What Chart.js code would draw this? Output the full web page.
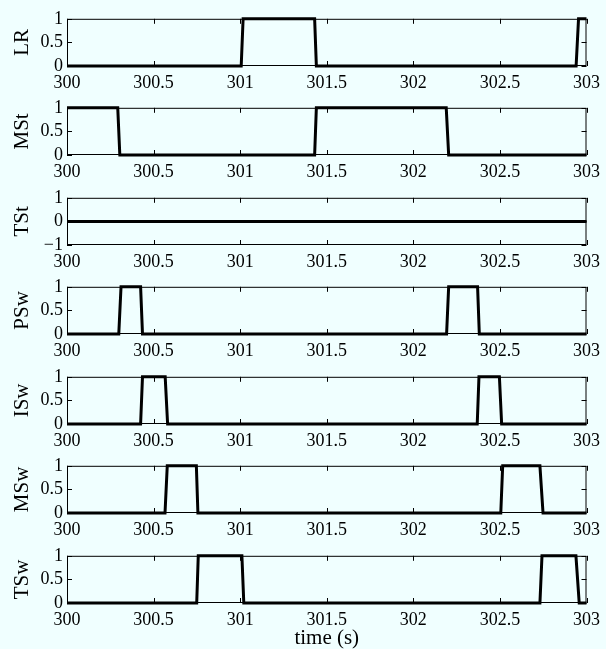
<!DOCTYPE html>
<html>
<head>
<meta charset="utf-8">
<script src="https://cdn.jsdelivr.net/npm/chart.js@4"></script>
<style>
    html, body { margin: 0; padding: 0; background: #f0ffff; }
    #fig { position: relative; width: 606px; height: 649px; overflow: hidden; }
    #fig canvas { position: absolute; left: 0; }
</style>
</head>
<body>
<div id="fig"></div>
<script>
// tick values
const xTicks = [300, 300.5, 301, 301.5, 302, 302.5, 303]
const unitTicks = [0, 0.5, 1]
const tstTicks = [-1, 0, 1]

// signals: switching times (s) and levels
const lrT = [300, 301.006, 301.017, 301.43, 301.44, 302.94, 302.954, 303]
const lrV = [0, 0, 1, 1, 0, 0, 1, 1]

const mstT = [300, 300.293, 300.305, 301.43, 301.44, 302.19, 302.204, 303]
const mstV = [1, 1, 0, 0, 1, 1, 0, 0]

const tstT = [300, 303]
const tstV = [0, 0]

const pswT = [300, 300.299, 300.312, 300.425, 300.436, 302.192, 302.204, 302.371, 302.381, 303]
const pswV = [0, 0, 1, 1, 0, 0, 1, 1, 0, 0]

const iswT = [300, 300.425, 300.436, 300.567, 300.581, 302.369, 302.379, 302.497, 302.51, 303]
const iswV = [0, 0, 1, 1, 0, 0, 1, 1, 0, 0]

const mswT = [300, 300.566, 300.579, 300.747, 300.756, 302.505, 302.516, 302.731, 302.749, 303]
const mswV = [0, 0, 1, 1, 0, 0, 1, 1, 0, 0]

const tswT = [300, 300.749, 300.758, 301.01, 301.021, 302.731, 302.743, 302.939, 302.958, 303]
const tswV = [0, 0, 1, 1, 0, 0, 1, 1, 0, 0]

const panels = [
    {label: 'LR', t: lrT, v: lrV, yTicks: unitTicks},
    {label: 'MSt', t: mstT, v: mstV, yTicks: unitTicks},
    {label: 'TSt', t: tstT, v: tstV, yTicks: tstTicks},
    {label: 'PSw', t: pswT, v: pswV, yTicks: unitTicks},
    {label: 'ISw', t: iswT, v: iswV, yTicks: unitTicks},
    {label: 'MSw', t: mswT, v: mswV, yTicks: unitTicks},
    {label: 'TSw', t: tswT, v: tswV, yTicks: unitTicks}
]

// layout (px)
const plotTops = [16, 105, 195, 284, 374, 463, 553]
const plotH = 50
const padTop = 12
const xAxisH = 27
const lastAxisH = 46

Chart.defaults.font.family = "'Liberation Serif', 'Times New Roman', serif"
Chart.defaults.color = '#000'

// matlab-like box with inward ticks
const frame = {
    id: 'frame',
    beforeDatasetsDraw(chart) {
        const {ctx, chartArea: a, scales: {x, y}} = chart
        ctx.save()
        ctx.strokeStyle = '#000'
        ctx.lineWidth = 1
        ctx.strokeRect(a.left + 0.5, a.top + 0.5, a.width - 1, a.height - 1)
        ctx.beginPath()
        x.ticks.forEach(t => {
            const px = Math.round(x.getPixelForValue(t.value)) + 0.5
            ctx.moveTo(px, a.top); ctx.lineTo(px, a.top + 5)
            ctx.moveTo(px, a.bottom); ctx.lineTo(px, a.bottom - 5)
        })
        y.ticks.forEach(t => {
            const py = Math.round(y.getPixelForValue(t.value)) + 0.5
            ctx.moveTo(a.left, py); ctx.lineTo(a.left + 5, py)
            ctx.moveTo(a.right, py); ctx.lineTo(a.right - 5, py)
        })
        ctx.stroke()
        ctx.restore()
    }
}

const fig = document.getElementById('fig')

panels.forEach((p, i) => {
    const last = i === panels.length - 1
    const axisH = last ? lastAxisH : xAxisH
    const canvas = document.createElement('canvas')
    canvas.width = 606
    canvas.height = padTop + plotH + axisH
    canvas.style.top = (plotTops[i] - padTop) + 'px'
    fig.appendChild(canvas)

    new Chart(canvas, {
        type: 'line',
        data: {
            datasets: [{
                data: p.t.map((t, k) => ({x: t, y: p.v[k]})),
                borderColor: '#000',
                borderWidth: 3,
                pointRadius: 0,
                tension: 0,
                clip: 4
            }]
        },
        options: {
            responsive: false,
            animation: false,
            events: [],
            layout: {padding: {top: padTop, right: 14, left: 0, bottom: 0}},
            plugins: {legend: {display: false}, tooltip: {enabled: false}},
            scales: {
                x: {
                    type: 'linear',
                    min: 300,
                    max: 303,
                    grid: {display: false, drawTicks: false},
                    border: {display: false},
                    afterBuildTicks: s => { s.ticks = xTicks.map(v => ({value: v})) },
                    afterFit: s => { s.height = axisH },
                    ticks: {
                        padding: 6,
                        maxRotation: 0,
                        autoSkip: false,
                        font: {size: 18},
                        callback: v => String(v)
                    },
                    title: {
                        display: last,
                        text: 'time (s)',
                        font: {size: 21, lineHeight: 1},
                        padding: 0
                    }
                },
                y: {
                    min: p.yTicks[0],
                    max: p.yTicks[p.yTicks.length - 1],
                    grid: {display: false, drawTicks: false},
                    border: {display: false},
                    afterBuildTicks: s => { s.ticks = p.yTicks.map(v => ({value: v})) },
                    afterFit: s => { s.width = 67 },
                    ticks: {
                        padding: 4,
                        autoSkip: false,
                        font: {size: 18},
                        callback: v => String(v).replace('-', '\u2212')
                    },
                    title: {
                        display: true,
                        text: p.label,
                        font: {size: 21},
                        padding: {top: 10, bottom: 0}
                    }
                }
            }
        },
        plugins: [frame]
    })
})
</script>
</body>
</html>
